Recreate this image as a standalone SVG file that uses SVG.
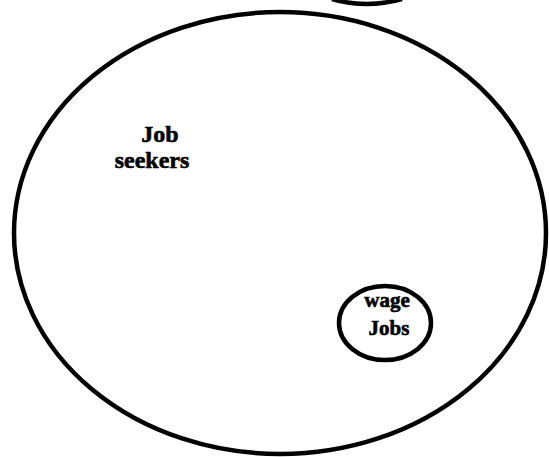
<svg xmlns="http://www.w3.org/2000/svg" width="549" height="457" viewBox="0 0 549 457">
<style>
.ring{fill:none;stroke:#000;stroke-width:4.5}
.lbl{font-family:"Liberation Serif","Times New Roman",serif;font-weight:bold;fill:#000;text-anchor:middle;stroke:#000;stroke-width:0.6}
</style>
<rect width="549" height="457" fill="#fff"/>
<g id="top-fragment">
<path class="ring" d="M332,-1 Q366,9 402,-1"/>
</g>
<g id="job-seekers">
<ellipse class="ring" cx="280" cy="233" rx="266" ry="221"/>
<text class="lbl" x="160" y="142" font-size="24">Job</text>
<text class="lbl" x="152" y="168" font-size="24">seekers</text>
</g>
<g id="wage-jobs">
<ellipse class="ring" cx="385" cy="323" rx="46" ry="37"/>
<text class="lbl" x="387" y="307" font-size="21">wage</text>
<text class="lbl" x="389" y="335" font-size="21">Jobs</text>
</g>
<g id="connectors"/>
</svg>
